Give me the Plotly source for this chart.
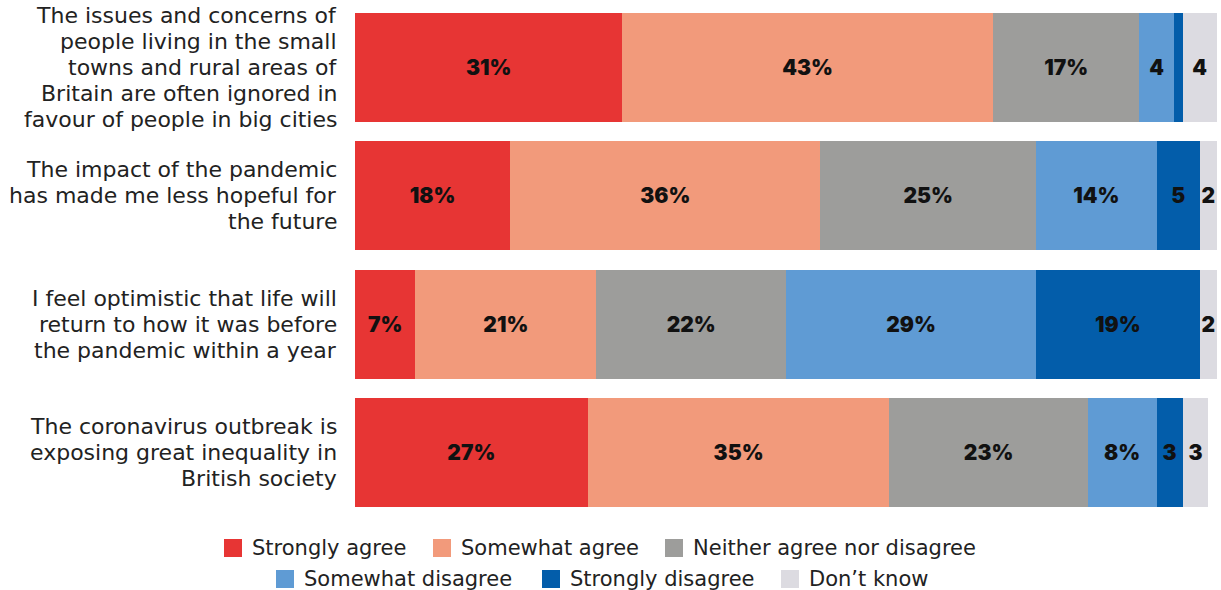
import plotly.graph_objects as go

# Survey statements (top to bottom), one entry per printed line
statements = [
    ["The issues and concerns of", "people living in the small",
     "towns and rural areas of", "Britain are often ignored in",
     "favour of people in big cities"],
    ["The impact of the pandemic", "has made me less hopeful for",
     "the future"],
    ["I feel optimistic that life will", "return to how it was before",
     "the pandemic within a year"],
    ["The coronavirus outbreak is", "exposing great inequality in",
     "British society"],
]
categories = [" ".join(lines) for lines in statements]

# Response shares (%) per statement, in the order above
strongly_agree = [31, 18, 7, 27]
somewhat_agree = [43, 36, 21, 35]
neither = [17, 25, 22, 23]
somewhat_disagree = [4, 14, 29, 8]
strongly_disagree = [1, 5, 19, 3]
dont_know = [4, 2, 2, 3]

response_names = [
    "Strongly agree",
    "Somewhat agree",
    "Neither agree nor disagree",
    "Somewhat disagree",
    "Strongly disagree",
    "Don\u2019t know",
]
response_values = [strongly_agree, somewhat_agree, neither,
                   somewhat_disagree, strongly_disagree, dont_know]
colors = ["#E73534", "#F29A7B", "#9D9D9B", "#5F9BD4", "#035DAA", "#DCDBE1"]

W, H = 1221, 590
M_L, M_R, M_T, M_B = 355, 4, 3, 73
PW, PH = W - M_L - M_R, H - M_T - M_B
TEXT_FONT = "DejaVu Sans"


def label(v):
    if v >= 6:
        return f"{v}%"
    if v >= 2:
        return str(v)
    return ""


fig = go.Figure()
for name, vals, col in zip(response_names, response_values, colors):
    fig.add_trace(go.Bar(
        y=categories, x=vals, name=name, orientation="h",
        marker=dict(color=col, line=dict(width=0)),
        text=[label(v) for v in vals],
        textposition="inside", insidetextanchor="middle",
        textangle=0, constraintext="none",
        textfont=dict(family="Inter", size=21, color="#111111", weight=900),
        showlegend=False, hoverinfo="skip",
    ))


def px_x(px):
    return (px - M_L) / PW


def px_y(py):
    return (H - M_B - py) / PH


annotations, shapes = [], []

# Statement labels, right-aligned beside each bar
line_pitch = 26
for cat, lines in zip(categories, statements):
    n = len(lines)
    for j, line in enumerate(lines):
        annotations.append(dict(
            text=line, xref="paper", yref="y", x=0, y=cat,
            xanchor="right", yanchor="middle", xshift=-16,
            yshift=-(j - (n - 1) / 2) * line_pitch,
            showarrow=False,
            font=dict(family=TEXT_FONT, size=22, color="#222222"),
        ))

# Legend drawn as swatches and labels, in two centred rows
legend_rows = [
    (548, [(224, 0), (433, 1), (665, 2)]),
    (579, [(276, 3), (542, 4), (781, 5)]),
]
sw = 18
for cy, items in legend_rows:
    for x0, idx in items:
        shapes.append(dict(
            type="rect", xref="paper", yref="paper",
            x0=px_x(x0), x1=px_x(x0 + sw),
            y0=px_y(cy + sw / 2), y1=px_y(cy - sw / 2),
            fillcolor=colors[idx], line=dict(width=0),
        ))
        annotations.append(dict(
            text=response_names[idx], xref="paper", yref="paper",
            x=px_x(x0 + sw + 8), y=px_y(cy), xanchor="left", yanchor="middle",
            showarrow=False,
            font=dict(family=TEXT_FONT, size=21, color="#222222"),
        ))

fig.update_layout(
    width=W, height=H,
    margin=dict(l=M_L, r=M_R, t=M_T, b=M_B, autoexpand=False),
    barmode="stack", bargap=0.15,
    plot_bgcolor="white", paper_bgcolor="white",
    xaxis=dict(range=[0, 100], visible=False, fixedrange=True),
    yaxis=dict(
        type="category", categoryorder="array", categoryarray=categories,
        range=[len(categories) - 0.5, -0.5], autorange=False,
        showgrid=False, zeroline=False,
        ticks="", showticklabels=False, fixedrange=True,
    ),
    shapes=shapes, annotations=annotations,
)

fig.write_html("out.html")
